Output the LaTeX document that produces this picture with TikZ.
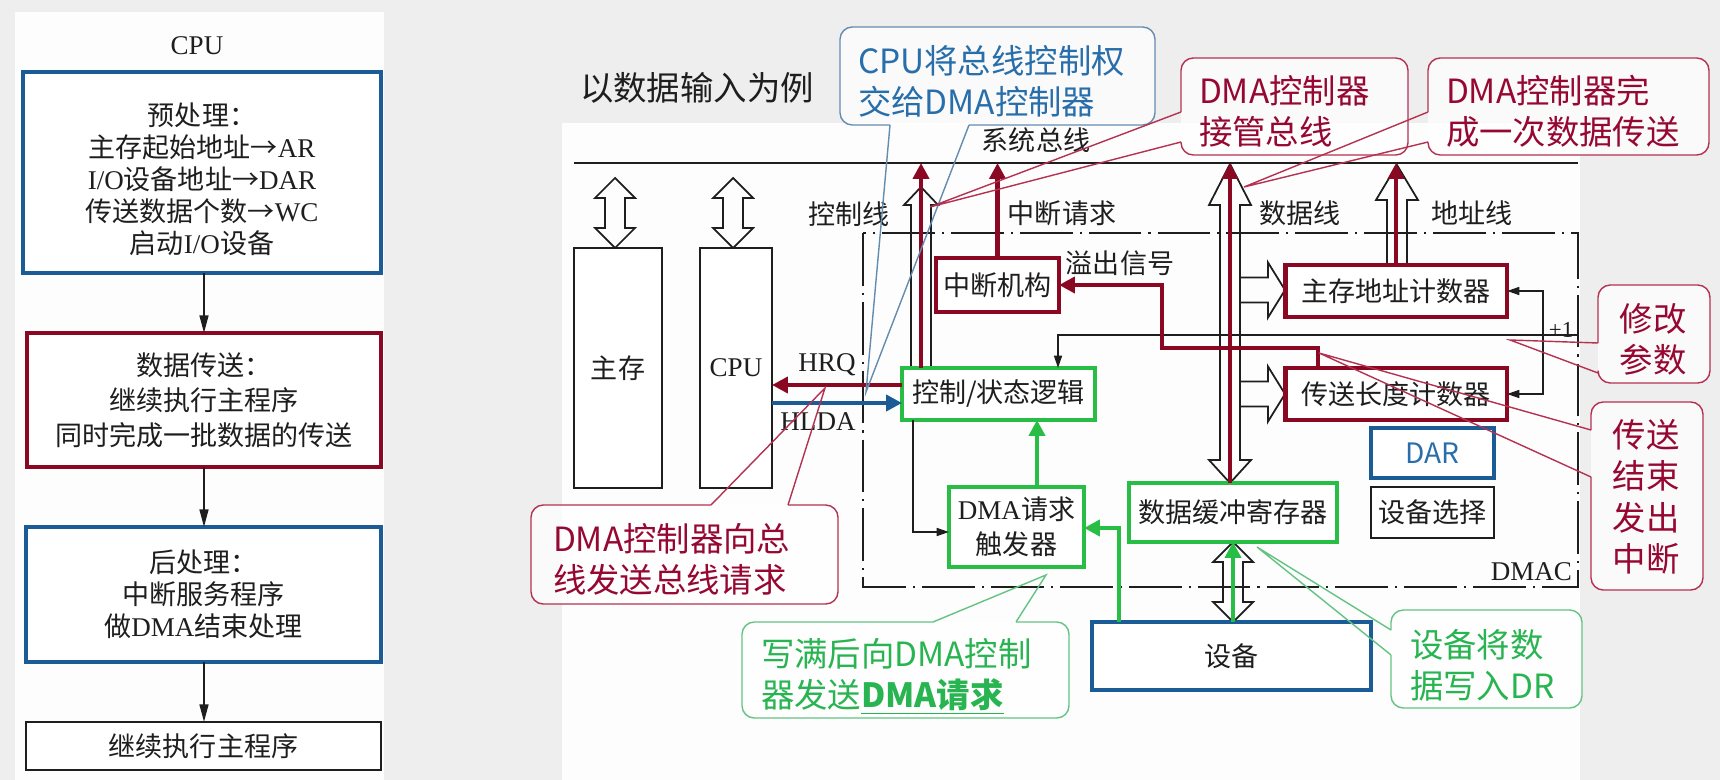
\documentclass[tikz,border=0pt]{standalone}
\usepackage{fontspec}
\setmainfont{Liberation Serif}
\newfontfamily\cjk{Noto Sans CJK SC}
\usetikzlibrary{arrows.meta,calc}
\definecolor{bg}{RGB}{238,238,238}
\definecolor{panel}{RGB}{253,253,253}
\definecolor{dred}{RGB}{139,8,35}
\definecolor{dblue}{RGB}{28,92,150}
\definecolor{dgreen}{RGB}{40,190,70}
\definecolor{tred}{RGB}{150,8,50}
\definecolor{tblue}{RGB}{40,110,170}
\definecolor{tgreen}{RGB}{40,180,80}
\definecolor{cred}{RGB}{180,50,80}
\definecolor{cblue}{RGB}{100,140,175}
\definecolor{cgreen}{RGB}{100,195,130}
\definecolor{ink}{RGB}{30,30,30}
\newcommand\zh[1]{{\cjk #1}}
% hollow single-headed up arrow: x, ytip, yheadbase, ybottom, halfhead
\newcommand\hollowUp[5]{\draw[hollow] ({#1-10},{#4}) -- ({#1-10},{#3}) -- ({#1-#5},{#3}) -- ({#1},{#2}) -- ({#1+#5},{#3}) -- ({#1+10},{#3}) -- ({#1+10},{#4});}
% hollow double arrow: x, ytop, ytopbase, ybotbase, ybot, halfhead
\newcommand\hollowUD[6]{\draw[hollow] ({#1},{#2}) -- ({#1+#6},{#3}) -- ({#1+10},{#3}) -- ({#1+10},{#4}) -- ({#1+#6},{#4}) -- ({#1},{#5}) -- ({#1-#6},{#4}) -- ({#1-10},{#4}) -- ({#1-10},{#3}) -- ({#1-#6},{#3}) -- cycle;}
% hollow right arrow branch: xstart, ycenter, xheadbase, xtip
\newcommand\hollowR[4]{\draw[hollow] ({#1},{#2-12.5}) -- ({#3},{#2-12.5}) -- ({#3},{#2-27.5}) -- ({#4},{#2}) -- ({#3},{#2+27.5}) -- ({#3},{#2+12.5}) -- ({#1},{#2+12.5});}
% callouts: color, x1, y1, x2, y2, a, b, tip
\newcommand\calloutLeft[8]{%
 \fill[white,fill opacity=.75,rounded corners=7pt] (#2,#3) rectangle (#4,#5);
 \draw[draw=#1,line width=.8pt,rounded corners=7pt] (#2,#7) -- (#2,#5) -- (#4,#5) -- (#4,#3) -- (#2,#3) -- (#2,#6);
 \draw[draw=#1,line width=.8pt,line join=miter] (#2,#6) -- #8 -- (#2,#7);}
\newcommand\calloutTop[8]{%
 \fill[white,fill opacity=.75,rounded corners=7pt] (#2,#3) rectangle (#4,#5);
 \draw[draw=#1,line width=.8pt,rounded corners=7pt] (#6,#3) -- (#2,#3) -- (#2,#5) -- (#4,#5) -- (#4,#3) -- (#7,#3);
 \draw[draw=#1,line width=.8pt,line join=miter] (#6,#3) -- #8 -- (#7,#3);}
\newcommand\calloutBottom[8]{%
 \fill[white,fill opacity=.75,rounded corners=7pt] (#2,#3) rectangle (#4,#5);
 \draw[draw=#1,line width=.8pt,rounded corners=7pt] (#6,#5) -- (#2,#5) -- (#2,#3) -- (#4,#3) -- (#4,#5) -- (#7,#5);
 \draw[draw=#1,line width=.8pt,line join=miter] (#6,#5) -- #8 -- (#7,#5);}
\begin{document}
\begin{tikzpicture}[x=0.02cm,y=-0.02cm,
 every node/.style={inner sep=0pt,outer sep=0pt,text=ink},
 txt/.style={font=\fontsize{15.4}{18}\selectfont},
 ctext/.style={font=\cjk\fontsize{19}{23.5}\selectfont,align=left},
 plainbox/.style={draw=ink,line width=1pt,fill=white,txt},
 boxr/.style={draw=dred,line width=2.8pt,fill=white,txt},
 boxg/.style={draw=dgreen,line width=2.8pt,fill=white,txt},
 boxb/.style={draw=dblue,line width=2.3pt,fill=white,txt},
 hollow/.style={draw=ink,line width=1pt,line join=miter},
 thinarr/.style={draw=ink,line width=1pt,-{Triangle[length=7pt,width=4.5pt]}},
 leftarr/.style={draw=ink,line width=1.1pt,-{Triangle[length=10pt,width=5pt]}},
 rarr/.style={draw=dred,line width=2.8pt,-{Triangle[length=9pt,width=9pt]}},
 barr/.style={draw=dblue,line width=2.8pt,-{Triangle[length=9pt,width=9pt]}},
 garr/.style={draw=dgreen,line width=2.8pt,-{Triangle[length=9pt,width=9pt]}},
 dashdot/.style={draw=ink,line width=1pt,dash pattern=on 30pt off 4pt on 1.2pt off 4pt},
]
\useasboundingbox (0,0) rectangle (1720,780);
\fill[bg] (0,0) rectangle (1720,780);
\fill[panel] (15,12) rectangle (384,780);
\fill[panel] (562,123) rectangle (1580,780);

% ---------------- left flow ----------------
\node[txt] (cpulabel) at (197,46) {CPU};
\node[boxb,minimum width=7.16cm,minimum height=4.02cm] (pre) at (202,172.5) {};
\node[txt,align=center,font=\fontsize{15.4}{18.2}\selectfont] (pretext) at (202,179)
 {\zh{预处理：}\\ \zh{主存起始地址→}AR\\ I/O\zh{设备地址→}DAR\\ \zh{传送数据个数→}WC\\ \zh{启动}I/O\zh{设备}};
\node[boxr,minimum width=7.08cm,minimum height=2.68cm,align=center,font=\fontsize{15.4}{20}\selectfont] (xfer) at (204,400)
 {\zh{数据传送：}\\ \zh{继续执行主程序}\\ \zh{同时完成一批数据的传送}};
\node[boxb,minimum width=7.1cm,minimum height=2.7cm,align=center,font=\fontsize{15.4}{18.2}\selectfont] (post) at (203.5,594.5)
 {\zh{后处理：}\\ \zh{中断服务程序}\\ \zh{做}DMA\zh{结束处理}};
\node[draw=ink,line width=1.1pt,fill=white,txt,minimum width=7.1cm,minimum height=0.96cm] (cont) at (203.5,746) {\zh{继续执行主程序}};
\draw[leftarr] (204,0 |- pre.south) -- (204,0 |- xfer.north);
\draw[leftarr] (204,0 |- xfer.south) -- (204,0 |- post.north);
\draw[leftarr] (204,0 |- post.south) -- (204,0 |- cont.north);

% ---------------- right diagram ----------------
\node[font=\cjk\fontsize{19}{23}\selectfont] (title) at (697,88) {以数据输入为例};
\node[txt] (sysbus) at (1036,140) {\zh{系统总线}};
\coordinate (busL) at (574,163);
\coordinate (busR) at (1578,163);
\draw[dashdot] (863,233) rectangle (1578,587);
\draw[draw=ink,line width=1.1pt] (busL) -- (busR);

% hollow arrows
\hollowUD{615}{178}{198}{228}{248}{20}
\hollowUD{733}{178}{198}{228}{248}{20}
\hollowUp{921}{187}{205}{368}{17}
\hollowUD{1230}{164}{205}{460}{483}{21}
\hollowR{1240}{290}{1268}{1285}
\hollowR{1240}{394}{1268}{1285}
\hollowUp{1397}{165}{200}{265}{21}
\hollowUD{1233}{542}{562}{602}{622}{20}

% boxes
\node[plainbox,minimum width=1.76cm,minimum height=4.8cm] (mem) at (618,368) {\zh{主存}};
\node[plainbox,minimum width=1.44cm,minimum height=4.8cm] (cpu) at (736,368) {CPU};
\node[boxr,minimum width=2.46cm,minimum height=1.08cm] (intr) at (997.5,285) {\zh{中断机构}};
\node[boxg,minimum width=3.86cm,minimum height=1.04cm] (ctrl) at (998.5,394) {\zh{控制/状态逻辑}};
\node[boxr,minimum width=4.44cm,minimum height=1.04cm] (mar) at (1396,291) {\zh{主存地址计数器}};
\node[boxr,minimum width=4.44cm,minimum height=1.04cm] (wc) at (1396,394) {\zh{传送长度计数器}};
\node[boxb,minimum width=2.46cm,minimum height=1.0cm,font=\cjk\fontsize{16}{18}\selectfont,text=tblue] (dar) at (1432.5,453) {DAR};
\node[plainbox,minimum width=2.46cm,minimum height=1.02cm] (dsel) at (1432.5,512.5) {\zh{设备选择}};
\node[boxg,minimum width=4.16cm,minimum height=1.18cm] (dbr) at (1233,512.5) {\zh{数据缓冲寄存器}};
\node[boxg,minimum width=2.7cm,minimum height=1.6cm,align=center,font=\fontsize{15.4}{20}\selectfont] (dreq) at (1016.5,527) {DMA\zh{请求}\\ \zh{触发器}};
\node[boxb,minimum width=5.58cm,minimum height=1.36cm] (dev) at (1231.5,656) {\zh{设备}};

% thin connectors
\draw[thinarr] (1577,335) -- (1058,335) -- (1058,0 |- ctrl.north);
\draw[draw=ink,line width=1pt,{Triangle[length=7pt,width=4.5pt]}-{Triangle[length=7pt,width=4.5pt]}] (mar.east) -- (1543,0 |- mar.east) -- (1543,0 |- wc.east) -- (wc.east);
\draw[thinarr] (913,0 |- ctrl.south) -- (913,532) -- (dreq.west |- 0,532);

% thick connectors
\draw[rarr] (921,0 |- ctrl.north) -- (921,0 |- busL);
\draw[rarr] (intr.north) -- (intr.north |- busL);
\draw[rarr] (1230,0 |- dbr.north) -- (1230,0 |- busL);
\draw[rarr] (mar.north) -- (mar.north |- busL);
\draw[rarr,line join=miter] (1318,0 |- wc.north) -- (1318,348) -- (1162,348) -- (1162,0 |- intr.east) -- (intr.east);
\draw[rarr] (ctrl.west |- 0,385) -- (cpu.east |- 0,385);
\draw[barr] (cpu.east |- 0,403) -- (ctrl.west |- 0,403);
\draw[garr] (1037,0 |- dreq.north) -- (1037,0 |- ctrl.south);
\draw[garr,line join=miter] (1119,0 |- dev.north) -- (1119,528) -- (dreq.east |- 0,528);
\draw[garr] (1233,0 |- dev.north) -- (1233,0 |- dbr.south);

% labels
\node[txt] (lctl) at (849,214) {\zh{控制线}};
\node[txt] (lint) at (1062,213) {\zh{中断请求}};
\node[txt] (ldat) at (1300,213) {\zh{数据线}};
\node[txt] (ladr) at (1472,213) {\zh{地址线}};
\node[txt] (lovf) at (1120,263) {\zh{溢出信号}};
\node[txt] (lhrq) at (827,365) {HRQ};
\node[txt] (lhlda) at (818,422) {HLDA};
\node[font=\fontsize{13}{15}\selectfont] (plus) at (1561,330) {+1};
\node[txt,anchor=east] (dmac) at (1572,572) {DMAC};

% callouts
\calloutBottom{cblue}{840}{27}{1155}{125}{890}{969}{(866,392)}
\node[ctext,text=tblue,anchor=west] (c1) at (858,81) {CPU将总线控制权\\交给DMA控制器};
\calloutLeft{cred}{1181}{58}{1408}{155}{112}{142}{(930,207)}
\node[ctext,text=tred,anchor=west] (c2) at (1199,111) {DMA控制器\\接管总线};
\calloutLeft{cred}{1428}{58}{1709}{155}{112}{142}{(1244,187)}
\node[ctext,text=tred,anchor=west] (c3) at (1446,111) {DMA控制器完\\成一次数据传送};
\calloutLeft{cred}{1598}{285}{1710}{383}{343}{373}{(1510,340)}
\node[ctext,text=tred,align=center] (c4) at (1653,339) {修改\\参数};
\calloutLeft{cred}{1591}{402}{1703}{590}{430}{477}{(1319,353)}
\node[ctext,text=tred,align=center] (c5) at (1646,497) {传送\\结束\\发出\\中断};
\calloutTop{cred}{531}{505}{838}{604}{711}{788}{(825,388)}
\node[ctext,text=tred,anchor=west] (c6) at (553,559) {DMA控制器向总\\线发送总线请求};
\calloutTop{cgreen}{742}{622}{1069}{718}{933}{1016}{(1046,575)}
\node[ctext,text=tgreen,anchor=west] (c7) at (761,676) {写满后向DMA控制\\器发送\underline{\textbf{DMA请求}}};
\calloutLeft{cgreen}{1391}{610}{1582}{708}{630}{655}{(1257,547)}
\node[ctext,text=tgreen,anchor=west] (c8) at (1410,665) {设备将数\\据写入DR};
\end{tikzpicture}
\end{document}
